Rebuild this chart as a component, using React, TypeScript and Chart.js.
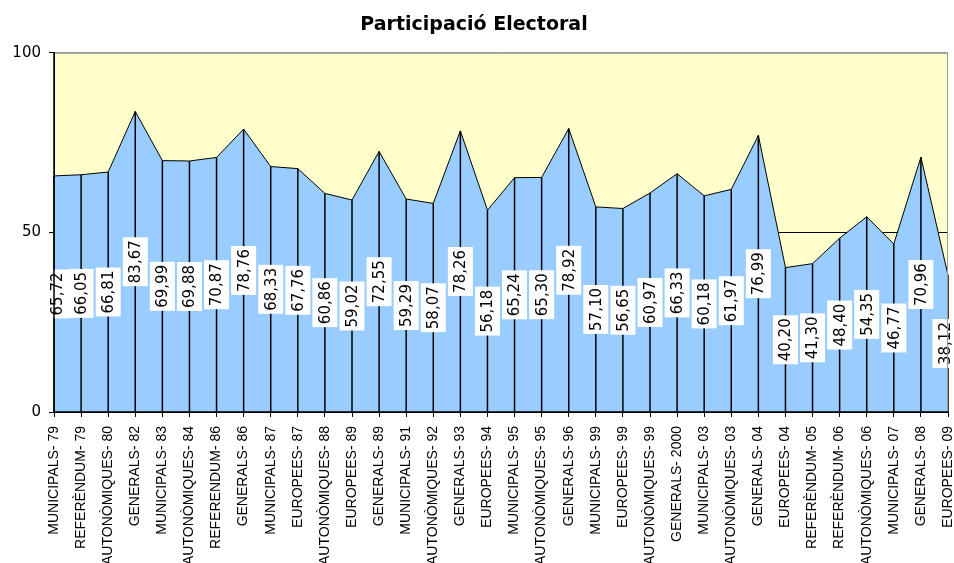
import { useEffect, useRef } from 'react';
import { Chart, registerables } from 'chart.js';

Chart.register(...registerables);

const categories = [
  'MUNICIPALS- 79', 'REFERÈNDUM- 79', 'AUTONÒMIQUES- 80', 'GENERALS- 82', 'MUNICIPALS- 83',
  'AUTONÒMIQUES- 84', 'REFERENDUM- 86', 'GENERALS- 86', 'MUNICIPALS- 87', 'EUROPEES- 87',
  'AUTONÒMIQUES- 88', 'EUROPEES- 89', 'GENERALS- 89', 'MUNICIPALS- 91', 'AUTONÒMIQUES- 92',
  'GENERALS- 93', 'EUROPEES- 94', 'MUNICIPALS- 95', 'AUTONÒMIQUES- 95', 'GENERALS- 96',
  'MUNICIPALS- 99', 'EUROPEES- 99', 'AUTONÒMIQUES- 99', 'GENERALS- 2000', 'MUNICIPALS- 03',
  'AUTONÒMIQUES- 03', 'GENERALS- 04', 'EUROPEES- 04', 'REFERÈNDUM- 05', 'REFERÈNDUM- 06',
  'AUTONÒMIQUES- 06', 'MUNICIPALS- 07', 'GENERALS- 08', 'EUROPEES- 09',
];

const participation = [
  65.72, 66.05, 66.81, 83.67, 69.99, 69.88, 70.87, 78.76, 68.33, 67.76,
  60.86, 59.02, 72.55, 59.29, 58.07, 78.26, 56.18, 65.24, 65.30, 78.92,
  57.10, 56.65, 60.97, 66.33, 60.18, 61.97, 76.99, 40.20, 41.30, 48.40,
  54.35, 46.77, 70.96, 38.12,
];

const yTicks = [0, 50, 100];
const title = 'Participació Electoral';

const fmt = (v: number) => v.toFixed(2).replace('.', ',');

const decorPlugin = {
  id: 'decor',
  beforeDraw(chart: any) {
    const { ctx, chartArea } = chart;
    const { left, top, right, bottom } = chartArea;
    ctx.save();
    ctx.fillStyle = '#FFFFCC';
    ctx.fillRect(left, top, right - left, bottom - top);
    ctx.restore();
  },
  afterDatasetsDraw(chart: any) {
    const { ctx, chartArea } = chart;
    const meta = chart.getDatasetMeta(0);
    const yScale = chart.scales.y;
    const base = yScale.getPixelForValue(0);
    ctx.save();
    ctx.strokeStyle = '#000';
    ctx.lineWidth = 1.5;
    meta.data.forEach((pt: any) => {
      ctx.beginPath();
      ctx.moveTo(pt.x, pt.y);
      ctx.lineTo(pt.x, base);
      ctx.stroke();
    });
    ctx.font = '15px "DejaVu Sans"';
    ctx.textAlign = 'center';
    ctx.textBaseline = 'middle';
    meta.data.forEach((pt: any, i: number) => {
      const v = participation[i];
      const cy = (pt.y + base) / 2;
      let cx = pt.x;
      cx = Math.max(chartArea.left + 3, Math.min(chartArea.right - 3, cx));
      const txt = fmt(v);
      const tw = ctx.measureText(txt).width;
      const bw = 25;
      const bh = tw + 6;
      ctx.save();
      ctx.translate(cx, cy);
      ctx.rotate(-Math.PI / 2);
      ctx.fillStyle = '#FFFFFF';
      ctx.fillRect(-bh / 2, -bw / 2, bh, bw);
      ctx.fillStyle = '#000';
      ctx.fillText(txt, 0, 1);
      ctx.restore();
    });
    ctx.restore();
  },
  afterDraw(chart: any) {
    const { ctx, chartArea } = chart;
    const { left, top, right, bottom } = chartArea;
    ctx.save();
    ctx.strokeStyle = '#999999';
    ctx.lineWidth = 1;
    ctx.beginPath();
    ctx.moveTo(left, top + 0.5);
    ctx.lineTo(right - 0.5, top + 0.5);
    ctx.lineTo(right - 0.5, bottom);
    ctx.stroke();
    ctx.strokeStyle = '#000';
    ctx.lineWidth = 1.5;
    ctx.beginPath();
    ctx.moveTo(left, top);
    ctx.lineTo(left, bottom);
    ctx.lineTo(right, bottom);
    ctx.stroke();
    ctx.restore();
  },
};

export default function App() {
  const ref = useRef<HTMLCanvasElement | null>(null);
  useEffect(() => {
    document.body.style.margin = '0';
    const canvas = ref.current;
    if (!canvas) return;
    const chart = new Chart(canvas, {
      type: 'line',
      data: {
        labels: categories,
        datasets: [
          {
            data: participation,
            fill: 'origin',
            backgroundColor: '#99CCFF',
            borderColor: '#000000',
            borderWidth: 1,
            pointRadius: 0,
            tension: 0,
          },
        ],
      },
      options: {
        animation: false,
        responsive: false,
        devicePixelRatio: 1,
        layout: { padding: { left: 0, right: 6, top: 0, bottom: 0 } },
        plugins: {
          legend: { display: false },
          tooltip: { enabled: false },
          title: {
            display: true,
            text: title,
            color: '#000',
            font: { family: '"DejaVu Sans"', size: 19, weight: 'bold', lineHeight: 1.2 },
            padding: { top: 14, bottom: 16 },
          },
        },
        scales: {
          x: {
            type: 'category',
            offset: false,
            grid: {
              drawOnChartArea: false,
              drawTicks: true,
              tickLength: 5,
              color: '#000',
              tickColor: '#000',
            },
            border: { display: true, color: '#000', width: 1 },
            ticks: {
              autoSkip: false,
              minRotation: 90,
              maxRotation: 90,
              padding: 9,
              color: '#000',
              font: { family: '"Liberation Sans", Arial', size: 14 },
            },
            afterFit(scale: any) {
              scale.height = 151;
              scale.paddingLeft = 0;
              scale.paddingRight = 0;
            },
          },
          y: {
            min: 0,
            max: 100,
            afterBuildTicks(scale: any) {
              scale.ticks = yTicks.map((v) => ({ value: v }));
            },
            grid: {
              drawTicks: true,
              tickLength: 5,
              color: (c: any) => (c.tick && c.tick.value === 100 ? '#999999' : '#000000'),
              tickColor: '#000',
              lineWidth: 1,
            },
            border: { display: true, color: '#000', width: 1 },
            ticks: {
              padding: 8,
              color: '#000',
              font: { family: '"DejaVu Sans"', size: 15 },
            },
            afterFit(scale: any) {
              scale.width = 54;
            },
          },
        },
      },
      plugins: [decorPlugin],
    });
    return () => chart.destroy();
  }, []);
  return <canvas ref={ref} width={954} height={563} style={{ display: 'block' }} />;
}
